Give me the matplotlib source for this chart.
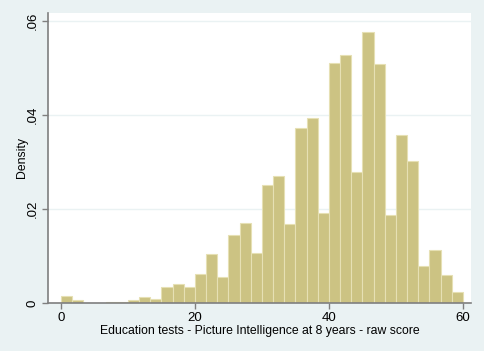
import matplotlib.pyplot as plt
import numpy as np

plt.rcParams['font.family'] = ['Liberation Sans', 'DejaVu Sans']

bin_width = 60 / 36
bin_edges = np.arange(36) * bin_width
density = [0.0014, 0.00057, 0.0, 0.0, 0.00025, 0.00025, 0.0006, 0.0013, 0.00085,
           0.0034, 0.0040, 0.0035, 0.0062, 0.0105, 0.0056, 0.0145, 0.0170, 0.0107,
           0.0250, 0.0270, 0.0167, 0.0371, 0.0392, 0.0192, 0.0510, 0.0527, 0.0279,
           0.0576, 0.0508, 0.0186, 0.0357, 0.0302, 0.0079, 0.0113, 0.0059, 0.0023]
x_ticks = [0, 20, 40, 60]
y_ticks = [0, 0.02, 0.04, 0.06]
y_labels = ['0', '.02', '.04', '.06']

bg = '#EAF2F3'
fig = plt.figure(figsize=(4.84, 3.51), dpi=100, facecolor=bg)
ax = fig.add_axes([48 / 484, 1 - 303 / 351, 423 / 484, 290 / 351])
ax.set_facecolor('white')

ax.bar(bin_edges, density, width=bin_width, align='edge',
       color='#CCC383', edgecolor='#E6E0B4', linewidth=0.8, zorder=2)

ax.set_xlim(-1.94, 61.2)
ax.set_ylim(0, 0.0616)
ax.set_xticks(x_ticks)
ax.set_yticks(y_ticks)
ax.set_yticklabels(y_labels, rotation=90, va='center')
ax.grid(axis='y', color=bg, linewidth=1, zorder=0)

for s in ['top', 'right']:
    ax.spines[s].set_visible(False)
for s in ['left', 'bottom']:
    ax.spines[s].set_color('#7F7F7F')
    ax.spines[s].set_linewidth(1.2)
ax.tick_params(colors='#7F7F7F', labelcolor='black', labelsize=9.5, length=4.5, width=1, pad=2)

ax.set_xlabel('Education tests - Picture Intelligence at 8 years - raw score', fontsize=8.8)
ax.set_ylabel('Density', fontsize=8.8)
ax.xaxis.set_label_coords(0.5, -0.0966)
ax.xaxis.label.set_va('center')
ax.yaxis.set_label_coords(-0.062, 0.503)
ax.yaxis.label.set_va('center')

fig.savefig('out.png', dpi=100, facecolor=bg)
